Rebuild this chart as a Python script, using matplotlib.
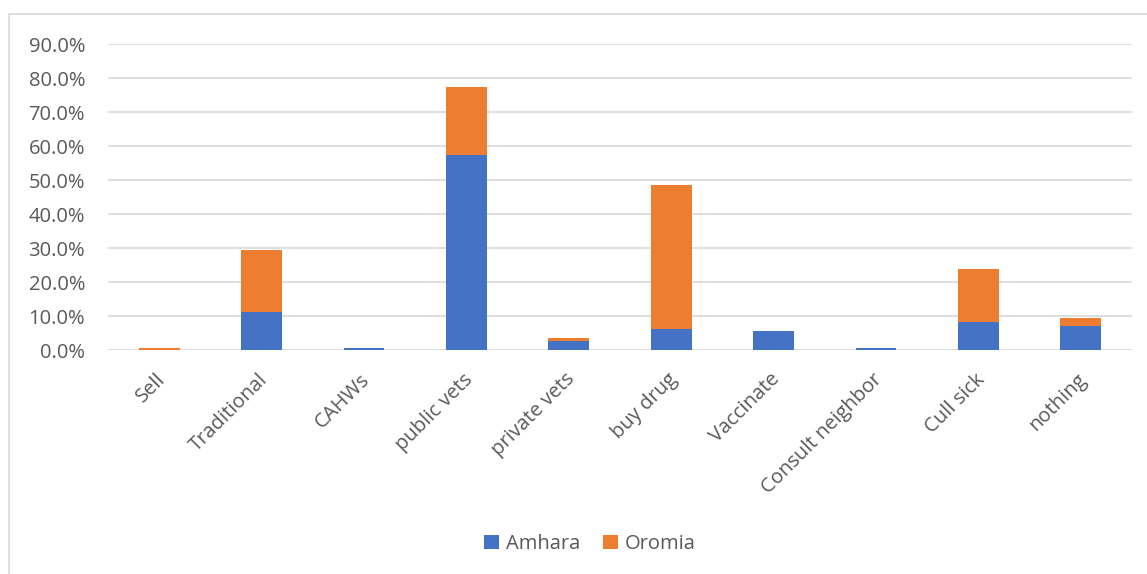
import matplotlib
matplotlib.use("Agg")
import matplotlib.pyplot as plt
from matplotlib.patches import Rectangle
from matplotlib.ticker import FuncFormatter, MultipleLocator
from matplotlib.transforms import ScaledTranslation

categories = ["Sell", "Traditional", "CAHWs", "public vets", "private vets",
              "buy drug", "Vaccinate", "Consult neighbor", "Cull sick", "nothing"]
amhara = [0.0, 11.2, 0.6, 57.4, 2.6, 6.2, 5.6, 0.6, 8.3, 7.0]
oromia = [0.5, 18.2, 0.0, 20.0, 0.8, 42.3, 0.0, 0.0, 15.6, 2.5]

blue = "#4472C4"
orange = "#ED7D31"
text_color = "#595959"
grid_color = "#D9D9D9"

plt.rcParams["font.family"] = ["Open Sans", "DejaVu Sans"]

W, H = 1147, 574
fig = plt.figure(figsize=(W / 100, H / 100), dpi=100)
ax = fig.add_axes([108 / W, 1 - 350 / H, (1132 - 108) / W, (350 - 44) / H])
ax.set_ylim(0, 90)

x = range(len(categories))
ax.bar(x, amhara, width=0.4, color=blue, label="Amhara", zorder=3)
ax.bar(x, oromia, width=0.4, bottom=amhara, color=orange, label="Oromia", zorder=3)

ax.set_xlim(-0.5, len(categories) - 0.5)
ax.yaxis.set_major_locator(MultipleLocator(10))
ax.yaxis.set_major_formatter(FuncFormatter(lambda v, p: f"{v:.1f}%"))
ax.grid(axis="y", color=grid_color, linewidth=1.2, zorder=0)
ax.set_axisbelow(True)
for s in ax.spines.values():
    s.set_visible(False)
ax.tick_params(axis="both", length=0, colors=text_color, labelsize=14.5)
ax.tick_params(axis="y", pad=16.5)
ax.set_xticks(list(x))
ax.set_xticklabels(categories, rotation=45, ha="right", rotation_mode="anchor")
ax.tick_params(axis="x", pad=14)
shift = ScaledTranslation(-4 / 100, 0, fig.dpi_scale_trans)
for lbl in ax.get_xticklabels():
    lbl.set_transform(lbl.get_transform() + shift)

leg = fig.legend(loc="center", bbox_to_anchor=(590 / W, 1 - 544 / H), ncol=2,
                 frameon=False, fontsize=14.5, handlelength=0.75, handleheight=0.75,
                 handletextpad=0.35, columnspacing=1.1)
for t in leg.get_texts():
    t.set_color(text_color)

# chart-area border
fig.patches.append(Rectangle((9 / W, -0.05), 1.2, 1 - 14 / H + 0.05,
                             transform=fig.transFigure, fill=False,
                             edgecolor=grid_color, linewidth=1.2))

fig.savefig("out.png", dpi=100, facecolor="white")
